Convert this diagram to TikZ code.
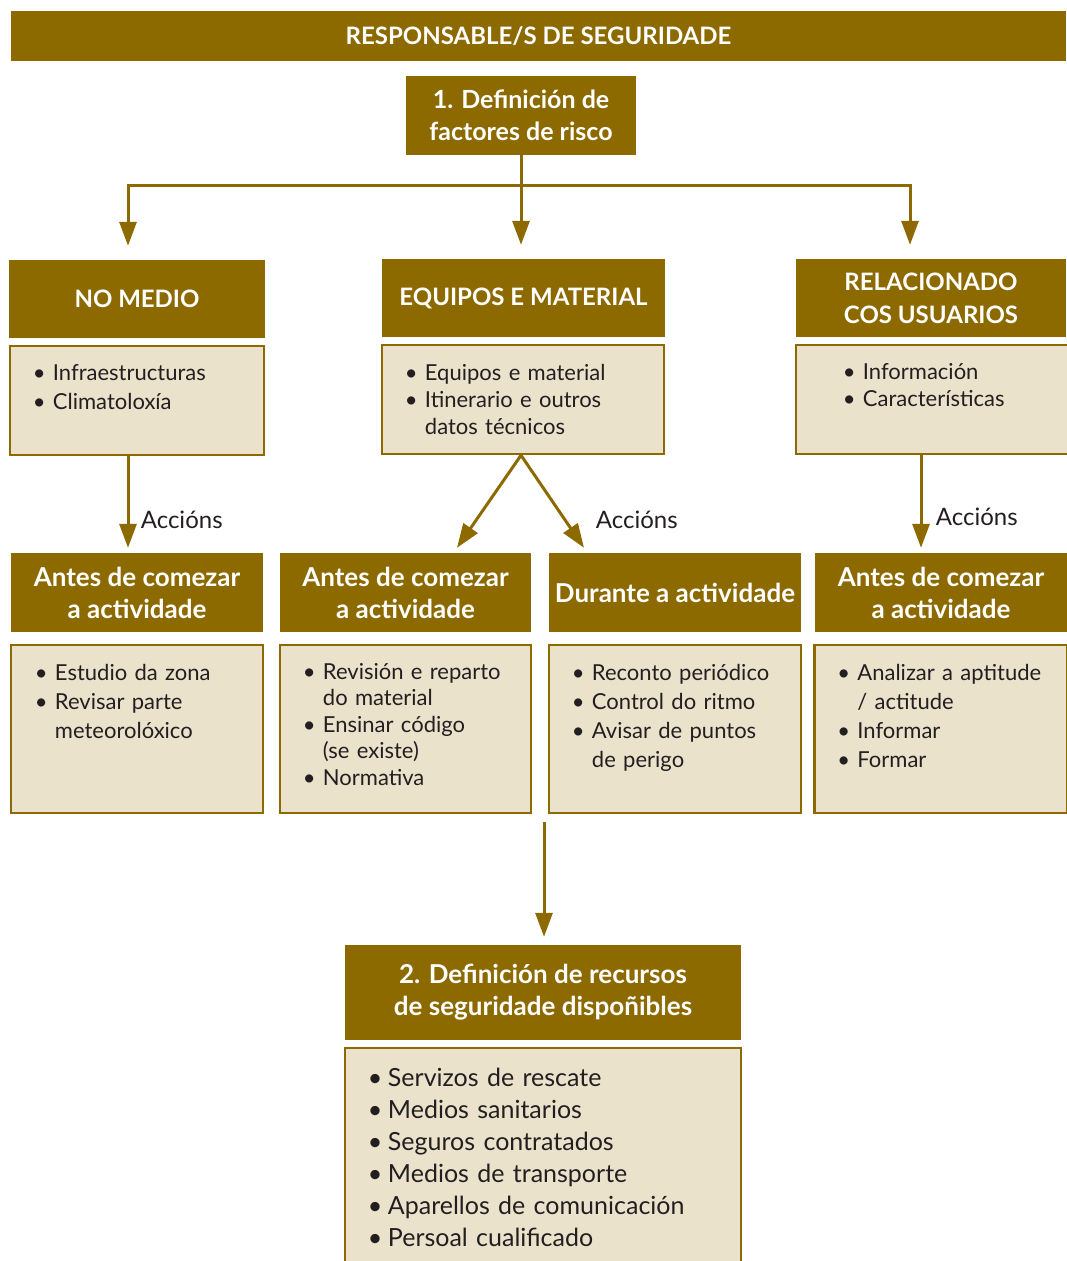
\documentclass[tikz,border=0pt]{standalone}
\usepackage{fontspec}
\setmainfont{Lato}
\usetikzlibrary{arrows.meta,positioning}
\definecolor{ouro}{HTML}{8C6A00}
\definecolor{crema}{HTML}{EBE2CC}
\definecolor{tinta}{HTML}{231F20}
% punto con viñeta e liña de continuación
\newcommand{\itm}[1]{\par\noindent\makebox[20pt][l]{\textbullet}#1}
\newcommand{\cnt}[1]{\par\noindent\hspace*{20pt}#1}

\begin{document}
\begin{tikzpicture}[x=1pt,y=-1pt,
  cabeza/.style={fill=ouro, text=white, font=\bfseries\fontsize{26}{32}\selectfont, align=center, inner sep=0pt},
  maiusc/.style={font=\bfseries\fontsize{24}{33}\selectfont},
  caixa/.style={draw=ouro, fill=crema, line width=2.5pt, inner sep=0pt},
  lista/.style={anchor=north west, align=left, inner sep=0pt, text=tinta, font=\fontsize{22}{29}\selectfont, text width=#1},
  frecha/.style={draw=ouro, line width=3pt, -{Triangle[length=24pt,width=17pt]}},
  accion/.style={font=\fontsize{24}{28}\selectfont, text=tinta}]
\useasboundingbox (0,0) rectangle (1066,1261);

% cabeceira e primeiro paso
\node (responsable) [cabeza, maiusc, minimum width=1055pt, minimum height=50pt] at (538.5,36) {RESPONSABLE/S DE SEGURIDADE};
\node (def1) [cabeza, minimum width=230pt, minimum height=79pt, font=\bfseries\fontsize{25}{32}\selectfont] at (521,115.5) {1. Definición de\\factores de risco};

% tres ámbitos
\node (medio) [cabeza, maiusc, minimum width=256pt, minimum height=78pt] at (137,299) {NO MEDIO};
\node (equipos) [cabeza, maiusc, minimum width=283pt, minimum height=78pt] at (523.5,298) {EQUIPOS E MATERIAL};
\node (usuarios) [cabeza, maiusc, minimum width=270pt, minimum height=78pt] at (931,298) {RELACIONADO\\COS USUARIOS};

\node (medioc) [caixa, minimum width=254pt, minimum height=109pt] at (137,400.5) {};
\node (equiposc) [caixa, minimum width=282pt, minimum height=109pt] at (523,399.5) {};
\node (usuariosc) [caixa, minimum width=272pt, minimum height=109pt] at (932,399.5) {};

\node (mediol) [lista=220pt] at ([xshift=24pt,yshift=-7pt]medioc.north west) {\itm{Infraestructuras}\itm{Climatoloxía}};
\node (equiposl) [lista=250pt, font=\fontsize{22}{27}\selectfont] at ([xshift=24pt,yshift=-10pt]equiposc.north west) {\itm{Equipos e material}\itm{Itinerario e outros}\cnt{datos técnicos}};
\node (usuariosl) [lista=220pt, font=\fontsize{22}{27}\selectfont] at ([xshift=48pt,yshift=-9pt]usuariosc.north west) {\itm{Información}\itm{Características}};

% accións
\node (antes1) [cabeza, minimum width=252pt, minimum height=79pt] at (137,592.5) {Antes de comezar\\a actividade};
\node (antes2) [cabeza, minimum width=251pt, minimum height=79pt] at (405.5,592.5) {Antes de comezar\\a actividade};
\node (durante) [cabeza, minimum width=252pt, minimum height=79pt] at (675,592.5) {Durante a actividade};
\node (antes3) [cabeza, minimum width=253pt, minimum height=79pt] at (941,592.5) {Antes de comezar\\a actividade};

\node (antes1c) [caixa, minimum width=252pt, minimum height=168pt] at (137,729) {};
\node (antes2c) [caixa, minimum width=251pt, minimum height=168pt] at (405.5,729) {};
\node (durantec) [caixa, minimum width=252pt, minimum height=168pt] at (675,729) {};
\node (antes3c) [caixa, minimum width=253pt, minimum height=168pt] at (941,729) {};

\node (antes1l) [lista=215pt] at ([xshift=25pt,yshift=-8pt]antes1c.north west) {\itm{Estudio da zona}\itm{Revisar parte}\cnt{meteorolóxico}};
\node (antes2l) [lista=215pt, font=\fontsize{22}{26.5}\selectfont] at ([xshift=24pt,yshift=-9pt]antes2c.north west) {\itm{Revisión e reparto}\cnt{do material}\itm{Ensinar código}\cnt{(se existe)}\itm{Normativa}};
\node (durantel) [lista=215pt] at ([xshift=24pt,yshift=-8pt]durantec.north west) {\itm{Reconto periódico}\itm{Control do ritmo}\itm{Avisar de puntos}\cnt{de perigo}};
\node (antes3l) [lista=222pt] at ([xshift=24pt,yshift=-8pt]antes3c.north west) {\itm{Analizar a aptitude}\cnt{/ actitude}\itm{Informar}\itm{Formar}};

% segundo paso
\node (recursos) [cabeza, minimum width=396pt, minimum height=95pt] at (543,992.5) {2. Definición de recursos\\de seguridade dispoñibles};
\node (recursosc) [caixa, minimum width=396pt, minimum height=222pt] at (543,1159) {};
\node (recursosl) [lista=350pt, font=\fontsize{25}{32}\selectfont] at ([xshift=24pt,yshift=-8pt]recursosc.north west) {\itm{Servizos de rescate}\itm{Medios sanitarios}\itm{Seguros contratados}\itm{Medios de transporte}\itm{Aparellos de comunicación}\itm{Persoal cualificado}};

% conectores
\coordinate (xunta) at (521,185);
\draw[ouro, line width=3pt] (def1.south) -- (xunta);
\draw[frecha] (xunta) -| ([xshift=-9pt,yshift=14pt]medio.north);
\draw[frecha] (xunta) -- ([xshift=-2.5pt,yshift=14pt]equipos.north);
\draw[frecha] (xunta) -| ([xshift=-21pt,yshift=14pt]usuarios.north);

\draw[frecha] ([xshift=-9pt]medioc.south) -- node[accion, pos=0.7, right=8pt] {Accións} ([xshift=-9pt,yshift=5pt]antes1.north);
\draw[frecha] ([xshift=-2pt]equiposc.south) -- ([xshift=51.5pt,yshift=5pt]antes2.north);
\draw[frecha] ([xshift=-2pt]equiposc.south) -- node[accion, pos=0.7, right=26pt] {Accións} ([xshift=-91pt,yshift=5pt]durante.north);
\draw[frecha] ([xshift=-11pt]usuariosc.south) -- node[accion, pos=0.67, right=10pt] {Accións} ([xshift=-20pt,yshift=5pt]antes3.north);

\coordinate (baixa) at (544,822);
\draw[frecha] (baixa) -- ([xshift=1pt,yshift=8pt]recursos.north);
\end{tikzpicture}
\end{document}
